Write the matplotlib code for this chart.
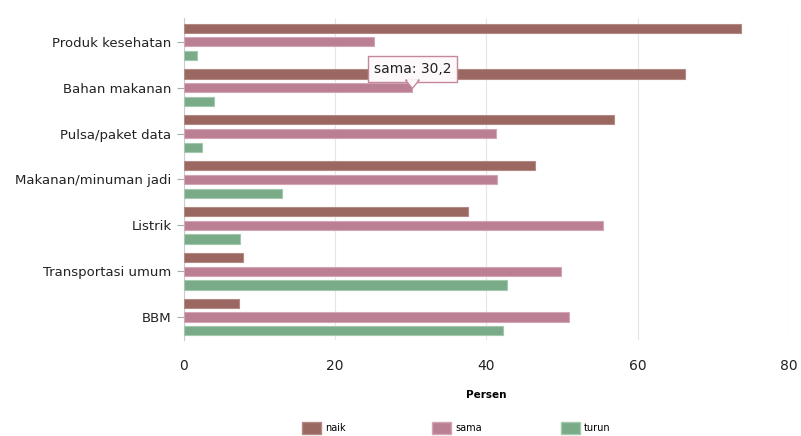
import numpy as np
import matplotlib
matplotlib.use("Agg")
import matplotlib.pyplot as plt
import matplotlib.transforms as mtransforms
from matplotlib.patches import Patch, Polygon

categories = ["Produk kesehatan", "Bahan makanan", "Pulsa/paket data",
              "Makanan/minuman jadi", "Listrik", "Transportasi umum", "BBM"]
naik = [73.7, 66.2, 56.9, 46.4, 37.6, 7.8, 7.3]
sama = [25.1, 30.2, 41.3, 41.4, 55.4, 49.9, 50.9]
turun = [1.7, 4.0, 2.4, 13.0, 7.4, 42.7, 42.2]

series = [("naik", naik, "#9a6860", "#b48a84"),
          ("sama", sama, "#bb7f93", "#d4a6b5"),
          ("turun", turun, "#7aab88", "#a3c8ad")]

plt.rcParams["font.family"] = ["DejaVu Sans"]

fig = plt.figure(figsize=(8.01, 4.36), dpi=100)
ax = fig.add_axes([0.2297, 0.2202, 0.7553, 0.7385])

y = np.arange(len(categories))
offsets = [-0.30, 0.0, 0.30]
for (name, vals, col, edge), off in zip(series, offsets):
    ax.barh(y + off, vals, height=0.2, color=col, edgecolor=edge, linewidth=0.8,
            label=name, zorder=3)

ax.set_ylim(6.5, -0.52)
ax.set_xlim(0, 80)
ax.set_xticks([0, 20, 40, 60, 80])
ax.set_yticks(y)
ax.set_yticklabels(categories, fontsize=9.5, color="#222222")
ax.tick_params(axis="y", length=5, color="#aaaaaa", pad=4)
ax.tick_params(axis="x", length=0, labelsize=10, colors="#222222", pad=14)
ax.grid(axis="x", color="#e6e6e6", linewidth=0.8, zorder=0)
for s in ["top", "right", "bottom"]:
    ax.spines[s].set_visible(False)
ax.spines["left"].set_color("#cccccc")
ax.set_xlabel("Persen", fontsize=7.5, fontweight="bold", labelpad=12)

# tooltip on "sama" of Bahan makanan
tip_cat = 1
tip_val = sama[tip_cat]
ax.annotate(f"sama: {tip_val:.1f}".replace(".", ","), xy=(tip_val, tip_cat),
            xytext=(0, 13.5), textcoords="offset points",
            fontsize=10, ha="center", va="center", color="#222222",
            bbox=dict(boxstyle="square,pad=0.4", fc="#fdf8f9", ec="#c4889b", lw=1),
            zorder=6)
ptr_tr = (mtransforms.Affine2D().scale(fig.dpi / 72.0)
          + mtransforms.ScaledTranslation(tip_val, tip_cat, ax.transData))
ax.add_patch(Polygon([[-5, 5.6], [5, 5.6], [0, -0.5]], closed=True, fc="#fdf8f9",
                     ec="#c4889b", lw=1, zorder=7, transform=ptr_tr))
# hide the border line across the pointer base
ax.add_patch(Polygon([[-4.2, 6.2], [4.2, 6.2], [0, 0.6]], closed=True,
                     fc="#fdf8f9", ec="none", zorder=8, transform=ptr_tr))

# legend items at fixed spacing
leg_x = [302, 432, 561]
for (name, vals, col, edge), lx in zip(series, leg_x):
    h = Patch(facecolor=col, edgecolor=edge, label=name)
    fig.legend(handles=[h], loc="upper left", bbox_to_anchor=(lx / 801, 1 - 422 / 436),
               frameon=False, fontsize=7, handlelength=1.96, handleheight=1.6,
               handletextpad=0.4, borderpad=0, borderaxespad=0)

fig.savefig("out.png", dpi=100)
